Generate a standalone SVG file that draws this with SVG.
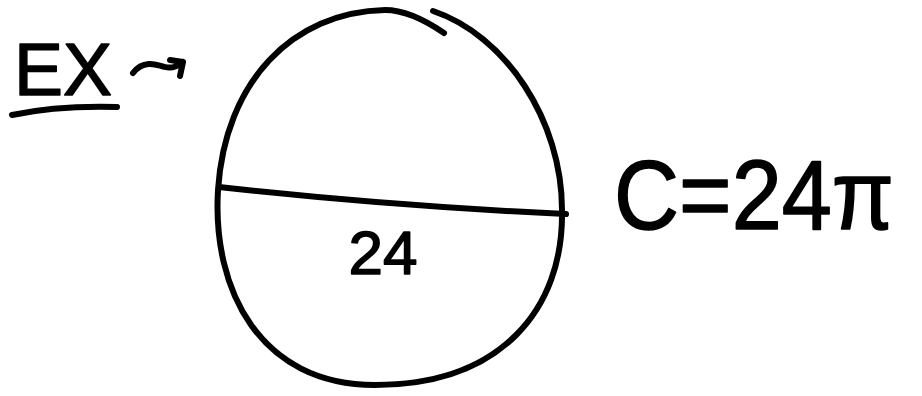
<svg xmlns="http://www.w3.org/2000/svg" width="922" height="396" viewBox="0 0 922 396">
<style>
.ink{fill:none;stroke:#000;stroke-width:6;stroke-linecap:round;stroke-linejoin:round}
.t{font-family:"Liberation Sans","DejaVu Sans",sans-serif;fill:#000;stroke:#000;stroke-width:1.5;stroke-linejoin:round}
</style>
<rect width="922" height="396" fill="#fff"/>
<g id="example-label">
<text class="t" x="14" y="95" font-size="74" textLength="98" lengthAdjust="spacingAndGlyphs">EX</text>
<path class="ink" d="M12,115 C45,108 80,106 117,107"/>
<path class="ink" d="M133,73 C143,60 155,64 165,67 C172,69 178,66 183,62 M170,60 L183,62 L180,76"/>
</g>
<g id="circle">
<path class="ink" d="M444,33 C425,20 405,10 385,10 C292,12 225,82 218,190 C212,290 260,385 375,385 C500,385 564,310 562,210 C562,120 505,35 433,11"/>
</g>
<g id="diameter">
<path class="ink" d="M219,187 Q390,206 566,214"/>
<text class="t" x="383" y="274" font-size="62" text-anchor="middle">24</text>
</g>
<g id="circumference">
<text class="t" x="614" y="229" font-size="98" textLength="280" lengthAdjust="spacingAndGlyphs">C=24π</text>
</g>
</svg>
